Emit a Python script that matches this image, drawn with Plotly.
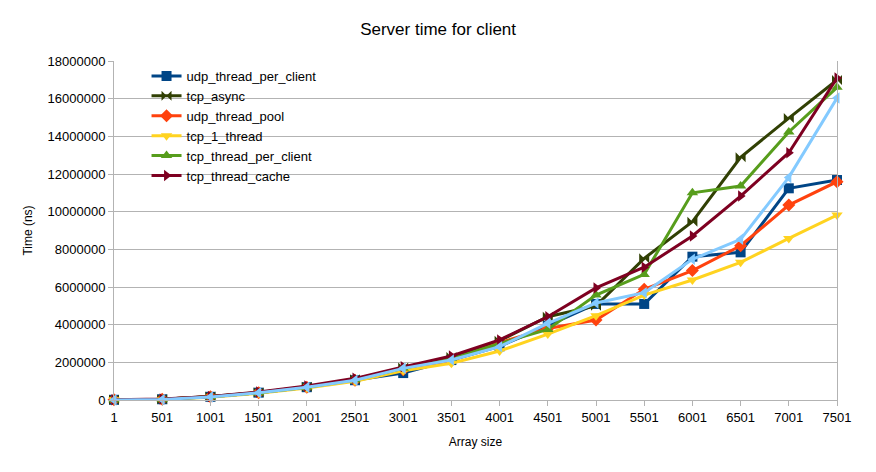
import plotly.graph_objects as go

array_sizes = [1, 501, 1001, 1501, 2001, 2501, 3001, 3501, 4001, 4501, 5001, 5501, 6001, 6501, 7001, 7501]

udp_thread_per_client = [10000, 40000, 170000, 390000, 680000, 1050000, 1430000, 2120000, 2850000, 3950000, 5100000, 5100000, 7610000, 7840000, 11240000, 11680000]
tcp_async = [10000, 40000, 180000, 400000, 700000, 1100000, 1720000, 2280000, 3150000, 4420000, 5000000, 7520000, 9470000, 12890000, 14970000, 16990000]
udp_thread_pool = [10000, 40000, 170000, 390000, 680000, 1050000, 1600000, 2100000, 3050000, 3800000, 4250000, 5880000, 6870000, 8190000, 10350000, 11590000]
tcp_1_thread = [10000, 30000, 150000, 360000, 640000, 1000000, 1550000, 1950000, 2600000, 3500000, 4480000, 5570000, 6370000, 7310000, 8580000, 9820000]
tcp_thread_per_client = [10000, 40000, 170000, 390000, 680000, 1070000, 1680000, 2200000, 3000000, 3750000, 5570000, 6670000, 11000000, 11360000, 14230000, 16600000]
tcp_thread_cache = [10000, 50000, 190000, 420000, 740000, 1150000, 1760000, 2340000, 3190000, 4420000, 5950000, 7050000, 8710000, 10830000, 13130000, 17100000]
unlabeled_series = [0, 30000, 160000, 380000, 680000, 1050000, 1680000, 2120000, 2830000, 4070000, 5150000, 5700000, 7470000, 8530000, 11820000, 16030000]

y_ticks = list(range(0, 18000001, 2000000))

series = [
    ("udp_thread_per_client", udp_thread_per_client, "#004586", "square", True),
    ("tcp_async", tcp_async, "#314004", "bowtie", True),
    ("udp_thread_pool", udp_thread_pool, "#ff420e", "diamond", True),
    ("tcp_1_thread", tcp_1_thread, "#ffd320", "triangle-down", True),
    ("tcp_thread_per_client", tcp_thread_per_client, "#579d1c", "triangle-up", True),
    ("tcp_thread_cache", tcp_thread_cache, "#7e0021", "triangle-right", True),
    ("series 7", unlabeled_series, "#83caff", "triangle-left", False),
]

fig = go.Figure()
for name, vals, color, sym, show in series:
    fig.add_trace(go.Scatter(
        x=array_sizes, y=vals, name=name, mode="lines+markers",
        line=dict(color=color, width=3),
        marker=dict(symbol=sym, size=10, color=color),
        showlegend=show, cliponaxis=False,
    ))

fig.update_layout(
    width=876, height=472,
    paper_bgcolor="white", plot_bgcolor="white",
    font=dict(family="Liberation Sans, Arial, sans-serif", size=13, color="#000000"),
    title=dict(text="Server time for client", x=0.491, xanchor="center", y=0.9555, yanchor="middle",
               font=dict(size=17)),
    margin=dict(l=106, r=47, t=53, b=80),
    legend=dict(x=0.045, y=1.0, xanchor="left", yanchor="top", bgcolor="rgba(0,0,0,0)",
                font=dict(size=13), tracegroupgap=0, itemwidth=30),
    xaxis=dict(
        title=dict(text="Array size", font=dict(size=12), standoff=14),
        range=[1, 7501], tickvals=array_sizes, ticktext=[str(v) for v in array_sizes],
        showgrid=False, showline=True, linecolor="#b3b3b3", linewidth=1,
        ticks="outside", ticklen=5, tickcolor="#b3b3b3", zeroline=False,
        tickfont=dict(size=13),
    ),
    yaxis=dict(
        title=dict(text="Time (ns)", font=dict(size=12), standoff=12),
        range=[0, 18000000], tickvals=y_ticks, ticktext=[str(v) for v in y_ticks],
        showgrid=True, gridcolor="#b3b3b3", gridwidth=1,
        showline=True, linecolor="#b3b3b3", linewidth=1, mirror=True,
        ticks="outside", ticklen=5, tickcolor="#b3b3b3", zeroline=False,
        tickfont=dict(size=13),
    ),
)

fig.write_html("out.html")
